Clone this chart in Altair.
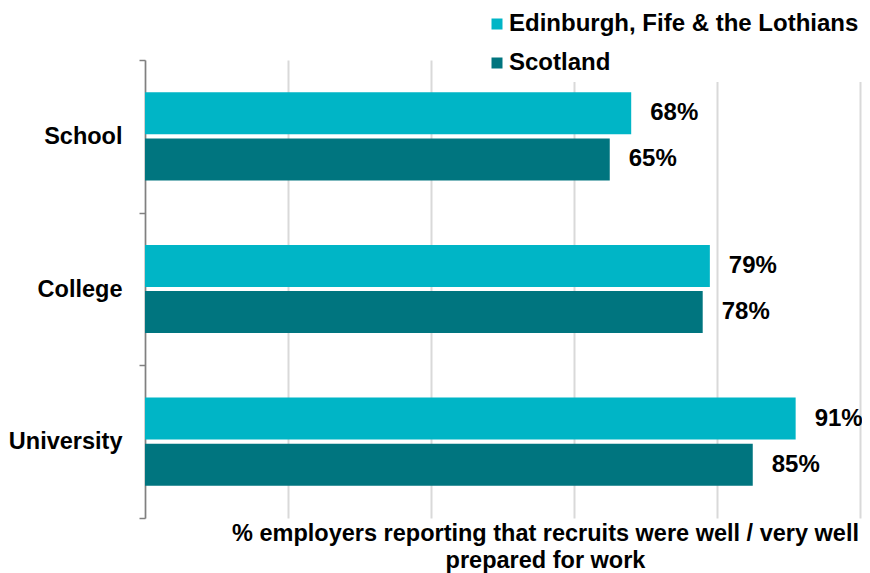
import altair as alt
import pandas as pd

categories = ["School", "College", "University"]
series = ["Edinburgh, Fife & the Lothians", "Scotland"]
edinburgh = [68, 79, 91]
scotland = [65, 78, 85]
colors = ["#00B5C6", "#00757F"]

rows = []
for i, c in enumerate(categories):
    rows.append({"cat": c, "series": series[0], "value": edinburgh[i], "label": f"{edinburgh[i]}%"})
    rows.append({"cat": c, "series": series[1], "value": scotland[i], "label": f"{scotland[i]}%"})
df = pd.DataFrame(rows)

FONT = "Liberation Sans"
FS = 24

y_enc = alt.Y("cat:N", sort=categories, title=None,
              scale=alt.Scale(paddingInner=0, paddingOuter=0),
              axis=alt.Axis(labelFont=FONT, labelFontSize=23.5, labelFontWeight="bold",
                            labelColor="#000000", labelPadding=17, tickBand="extent",
                            tickSize=6, tickColor="#808080", domainColor="#808080",
                            domainWidth=1.5, tickWidth=1.5))
yoff = alt.YOffset("series:N", sort=series,
                   scale=alt.Scale(paddingInner=0.09, paddingOuter=0.7))
x_enc = alt.X("value:Q", scale=alt.Scale(domain=[0, 100]),
              axis=alt.Axis(values=[0, 20, 40, 60, 80, 100], labels=False, ticks=False,
                            domain=False, grid=True, gridColor="#D9D9D9", gridWidth=2,
                            title=["% employers reporting that recruits were well / very well",
                                   "prepared for work"],
                            titleFont=FONT, titleFontSize=23.5, titleFontWeight="bold",
                            titleColor="#000000", titleX=400, titleAlign="center",
                            titlePadding=3, titleLineHeight=27))

bars = alt.Chart(df).mark_bar().encode(
    x=x_enc, y=y_enc, yOffset=yoff,
    color=alt.Color("series:N", sort=series,
                    scale=alt.Scale(domain=series, range=colors),
                    legend=alt.Legend(title=None, orient="none", legendX=333, legendY=-55,
                                      symbolType="square", symbolSize=121,
                                      symbolStrokeWidth=0, labelFont=FONT,
                                      labelFontSize=FS, labelFontWeight="bold",
                                      labelColor="#000000", labelOffset=0,
                                      rowPadding=15, padding=7, fillColor="white",
                                      labelLimit=500))
)

text = alt.Chart(df).mark_text(align="left", baseline="middle", dx=19, font=FONT,
                               fontSize=FS, fontWeight="bold", color="#000000").encode(
    x="value:Q", y=alt.Y("cat:N", sort=categories), yOffset=alt.YOffset("series:N", sort=series),
    text="label:N"
)

chart = alt.layer(bars, text).properties(
    width=715, height=458,
    autosize=alt.AutoSizeParams(type="none"),
    padding={"left": 137, "top": 52, "right": 2, "bottom": 55},
).configure_view(stroke=None)

chart.save("out.html", embed_options={"renderer": "svg", "actions": False})
